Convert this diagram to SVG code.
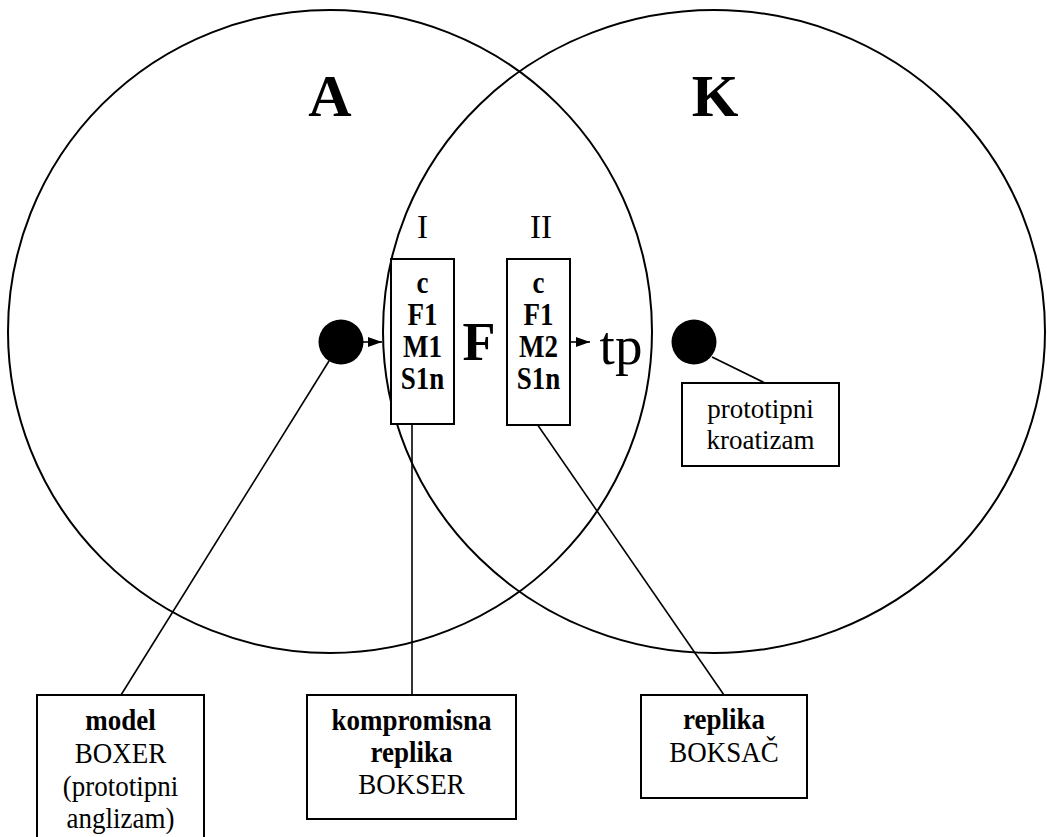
<svg xmlns="http://www.w3.org/2000/svg" width="1047" height="837" viewBox="0 0 1047 837">
<style>
.ring{fill:none;stroke:#000;stroke-width:2}
.box{fill:#fff;stroke:#000;stroke-width:2}
.dot{fill:#000}
.ln{stroke:#000;stroke-width:1.6;fill:none}
text{font-family:"Liberation Serif","Times New Roman",serif;fill:#000;text-anchor:middle}
.big{font-size:60px;font-weight:bold}
.rom{font-size:33px}
.b{font-size:27px;font-weight:bold}
.r{font-size:27px}
</style>
<defs>
<marker id="ah" markerUnits="userSpaceOnUse" markerWidth="14" markerHeight="10" refX="14" refY="5" orient="auto">
<path d="M0,0 L14,5 L0,10 z" fill="#000"/>
</marker>
</defs>
<rect width="1047" height="837" fill="#fff"/>
<g id="circle-A">
<ellipse class="ring" cx="330" cy="331.5" rx="322" ry="321.5"/>
<text class="big" x="330" y="116">A</text>
</g>
<g id="circle-K">
<ellipse class="ring" cx="714" cy="331.5" rx="331" ry="321.5"/>
<text class="big" x="715" y="116">K</text>
</g>
<g id="connectors">
<line class="ln" x1="363" y1="342" x2="382" y2="342" marker-end="url(#ah)"/>
<line class="ln" x1="570" y1="342" x2="590" y2="342" marker-end="url(#ah)"/>
<line class="ln" x1="329" y1="361" x2="121" y2="695"/>
<line class="ln" x1="412" y1="424" x2="412" y2="695"/>
<line class="ln" x1="537" y1="424" x2="724" y2="695"/>
<line class="ln" x1="712" y1="357" x2="765" y2="383"/>
</g>
<g id="dot-model">
<circle class="dot" cx="341" cy="342" r="22.5"/>
</g>
<g id="dot-kroatizam">
<circle class="dot" cx="694" cy="342" r="22.5"/>
</g>
<g id="box-I">
<text class="rom" transform="translate(422.5,238) scale(1,1.05)">I</text>
<rect class="box" x="391" y="259" width="63" height="165"/>
<text class="b" transform="translate(422.5,293) scale(1,1.15)">c</text>
<text class="b" transform="translate(422.5,325) scale(1,1.15)">F1</text>
<text class="b" transform="translate(422.5,357) scale(1,1.15)">M1</text>
<text class="b" transform="translate(422.5,389) scale(1,1.15)">S1n</text>
</g>
<g id="label-F">
<text x="479" y="360" style="font-size:54px;font-weight:bold">F</text>
</g>
<g id="box-II">
<text class="rom" transform="translate(541,238) scale(1,1.05)">II</text>
<rect class="box" x="507" y="259" width="63" height="166"/>
<text class="b" transform="translate(538.5,293) scale(1,1.15)">c</text>
<text class="b" transform="translate(538.5,325) scale(1,1.15)">F1</text>
<text class="b" transform="translate(538.5,357) scale(1,1.15)">M2</text>
<text class="b" transform="translate(538.5,389) scale(1,1.15)">S1n</text>
</g>
<g id="label-tp">
<text x="621" y="364" style="font-size:55px">tp</text>
</g>
<g id="box-kroatizam">
<rect class="box" x="682" y="383" width="157" height="83"/>
<text class="r" transform="translate(760.5,418) scale(1,1.04)">prototipni</text>
<text class="r" transform="translate(760.5,449) scale(1,1.04)">kroatizam</text>
</g>
<g id="box-model">
<rect class="box" x="37" y="695" width="167" height="150"/>
<text class="b" transform="translate(120.5,730) scale(1,1.12)">model</text>
<text class="r" transform="translate(120.5,763) scale(1,1.12)">BOXER</text>
<text class="r" transform="translate(120.5,796) scale(1,1.12)">(prototipni</text>
<text class="r" transform="translate(120.5,828) scale(1,1.12)">anglizam)</text>
</g>
<g id="box-kompromisna">
<rect class="box" x="307" y="695" width="209" height="124"/>
<text class="b" transform="translate(411.5,730) scale(1,1.12)">kompromisna</text>
<text class="b" transform="translate(411.5,762) scale(1,1.12)">replika</text>
<text class="r" transform="translate(411.5,794) scale(1,1.12)">BOKSER</text>
</g>
<g id="box-replika">
<rect class="box" x="641" y="695" width="166" height="103"/>
<text class="b" transform="translate(724,729) scale(1,1.12)">replika</text>
<text class="r" transform="translate(724,762) scale(1,1.12)">BOKSAČ</text>
</g>
</svg>
